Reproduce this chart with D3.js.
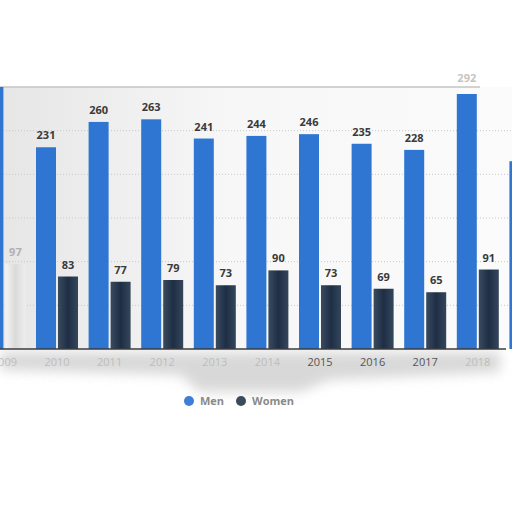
<!DOCTYPE html>
<html><head><meta charset="utf-8">
<script src="https://cdn.jsdelivr.net/npm/d3@7"></script>
<style>html,body{margin:0;padding:0;background:#fff;}svg{display:block;}</style>
</head><body>
<svg id="c" width="512" height="512"></svg>
<script>
const years = ["2009","2010","2011","2012","2013","2014","2015","2016","2017","2018","2019"];
const men   = [300, 231, 260, 263, 241, 244, 246, 235, 228, 292, 215];
const women = [97, 83, 77, 79, 73, 90, 73, 69, 65, 91, 70];
const seriesNames = ["Men","Women"];
const yTicks = [0, 50, 100, 150, 200, 250, 300];

(function(){
const colors = {Men:"#2f76d3", Women:"#223349"};
const svg = d3.select("#c");
const W = 512, plotTop = 87, base = 349;

const defs = svg.append("defs");
const blur = defs.append("filter").attr("id","blur").attr("x","-20%").attr("y","-50%").attr("width","140%").attr("height","200%");
blur.append("feGaussianBlur").attr("stdDeviation",6);
defs.append("clipPath").attr("id","clip").append("rect").attr("x",0).attr("y",plotTop).attr("width",W).attr("height",base-plotTop);
const gw = defs.append("linearGradient").attr("id","gw").attr("x1",0).attr("x2",1);
gw.append("stop").attr("offset","0").attr("stop-color","#3a4b60");
gw.append("stop").attr("offset","0.5").attr("stop-color","#1e2f45");
gw.append("stop").attr("offset","1").attr("stop-color","#34465b");
const gf = defs.append("linearGradient").attr("id","gfade").attr("x1",0).attr("x2",1);
gf.append("stop").attr("offset","0").attr("stop-color","#f4f4f4");
gf.append("stop").attr("offset","0.5").attr("stop-color","#dadada");
gf.append("stop").attr("offset","1").attr("stop-color","#eeeeee");
const gb = defs.append("linearGradient").attr("id","gbg").attr("x1",0).attr("x2",1);
gb.append("stop").attr("offset","0").attr("stop-color","#e6e6e6");
gb.append("stop").attr("offset","0.45").attr("stop-color","#f7f7f7");
gb.append("stop").attr("offset","1").attr("stop-color","#fbfbfb");

svg.append("path").attr("d","M0,352 L500,352 L500,372 L330,380 L300,392 L200,392 L180,375 L0,370 Z")
  .attr("fill","#cfcfcf").attr("filter","url(#blur)").attr("opacity",0.8);
svg.append("rect").attr("x",0).attr("y",plotTop).attr("width",W).attr("height",base-plotTop).attr("fill","url(#gbg)");

const x0 = d3.scaleBand().domain(years).range([-21.9, 556.7]).paddingInner(0);
const x1 = d3.scaleBand().domain(seriesNames).range([(x0.bandwidth()-42)/2, (x0.bandwidth()+42)/2]).paddingInner(0.0909);
const y = d3.scaleLinear().domain([0,300]).range([base, plotTop]);

svg.append("g").selectAll("line").data(yTicks.filter(t=>t>0&&t<300)).join("line")
  .attr("x1",0).attr("x2",W).attr("y1",d=>y(d)).attr("y2",d=>y(d))
  .attr("stroke","#c8c8c8").attr("stroke-dasharray","1,2").attr("stroke-width",1);
svg.append("line").attr("x1",0).attr("x2",480).attr("y1",plotTop).attr("y2",plotTop).attr("stroke","#c4c4c4").attr("stroke-width",1.5);

const data = years.map((yr,i)=>({year:yr, vals:[{k:"Men",v:men[i]},{k:"Women",v:women[i]}]}));
const g = svg.append("g").attr("clip-path","url(#clip)");
const groups = g.selectAll("g.grp").data(data).join("g").attr("transform",d=>`translate(${x0(d.year)},0)`);
groups.each(function(gd){
  d3.select(this).selectAll("rect").data(gd.vals).join("rect")
    .attr("x",d=>x1(d.k)).attr("width",x1.bandwidth())
    .attr("y",d=>y(d.v)).attr("height",d=>base-y(d.v))
    .attr("fill",d=>d.k==="Men"?colors.Men:(gd.year==="2009"?"url(#gfade)":"url(#gw)"));
});

const lg = svg.append("g");
data.forEach(d=>{
  d.vals.forEach(v=>{
    const cx = x0(d.year)+x1(v.k)+x1.bandwidth()/2;
    let ty = y(v.v)-8;
    if (cx < 8 || cx > 505) return;
    if (ty < plotTop) ty = plotTop - 5;
    lg.append("text").attr("x",cx).attr("y",ty).attr("text-anchor","middle")
      .attr("font-family","Open Sans, sans-serif").attr("font-size",11).attr("font-weight",700)
      .attr("fill", d.year==="2009" ? "#b0b0b0" : (d.year==="2018"&&v.k==="Men" ? "#c4c4c4" : "#3a3a3a"))
      .text(v.v);
  });
});

const ax = svg.append("g").attr("transform",`translate(0,${base})`)
  .call(d3.axisBottom(x0).tickValues(years.slice(0,-1)).tickSize(0).tickPadding(9));
ax.select(".domain").remove();
ax.append("line").attr("x1",0).attr("x2",506).attr("stroke","#3c3c3c").attr("stroke-width",1.5);
ax.selectAll("text").attr("font-family","Open Sans, sans-serif").attr("font-size",11)
  .attr("fill",d=>["2015","2016","2017"].includes(d)?"#555":"#bdbdbd");

const leg = svg.append("g").attr("transform","translate(189,401)");
[{k:"Men",x:0},{k:"Women",x:52}].forEach(it=>{
  leg.append("circle").attr("cx",it.x).attr("cy",0).attr("r",5).attr("fill",it.k==="Men"?"#3d7fd6":"#3b4a5c");
  leg.append("text").attr("x",it.x+11).attr("y",4).attr("font-family","Open Sans, sans-serif")
    .attr("font-size",11).attr("font-weight",700).attr("fill","#8a8a8a").text(it.k);
});
})();
</script>
</body></html>
